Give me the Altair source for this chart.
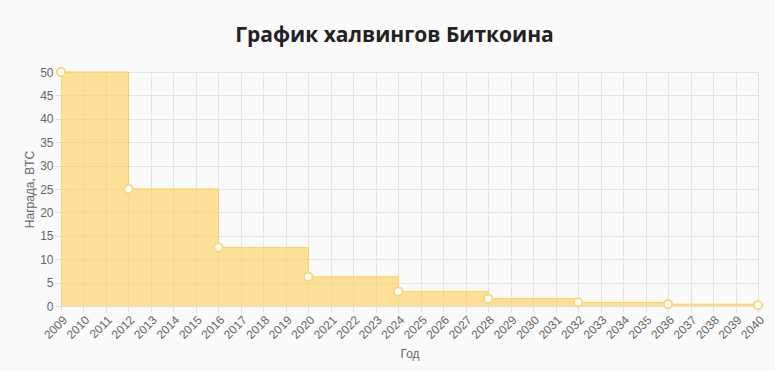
import altair as alt
import pandas as pd

years = [2009, 2012, 2016, 2020, 2024, 2028, 2032, 2036, 2040]
rewards = [50, 25, 12.5, 6.25, 3.125, 1.5625, 0.78125, 0.390625, 0.1953125]
tick_years = list(range(2009, 2041))
y_ticks = [0, 5, 10, 15, 20, 25, 30, 35, 40, 45, 50]

df = pd.DataFrame({"year": years, "reward": rewards})

label_font = "Liberation Sans"

x_enc = alt.X(
    "year:Q",
    scale=alt.Scale(domain=[2009, 2040], nice=False, zero=False),
    axis=alt.Axis(
        values=tick_years, format="d", labelAngle=-45, labelAlign="right",
        labelBaseline="top", title="Год", labelPadding=2, titlePadding=8,
        labelOverlap=False,
    ),
)
y_enc = alt.Y(
    "reward:Q",
    scale=alt.Scale(domain=[0, 50], nice=False),
    axis=alt.Axis(values=y_ticks, title="Награда, BTC", titlePadding=3),
)

base = alt.Chart(df).encode(x=x_enc, y=y_enc)

area = base.mark_area(
    interpolate="step-after", color="#ffce56", opacity=0.6
)
line = base.mark_line(
    interpolate="step-after", color="#ffce56", strokeWidth=1
)
points = base.mark_point(
    filled=True, fill="white", stroke="#f7d87c", strokeWidth=2,
    size=70, opacity=1,
)

chart = (
    alt.layer(area, line, points)
    .properties(
        width=697, height=234,
        autosize=alt.AutoSizeParams(type="none"),
        padding={"left": 61, "top": 72, "right": 17, "bottom": 65},
        background="#fafafa",
        title=alt.TitleParams(
            "График халвингов Биткоина", font="Open Sans", fontSize=21,
            fontWeight="bold", color="#222222", offset=18, anchor="middle",
            dx=-15,
        ),
    )
    .configure_view(stroke=None)
    .configure_axis(
        labelFont=label_font, titleFont=label_font, labelFontSize=12,
        titleFontSize=12, labelColor="#666666", titleColor="#666666",
        titleFontWeight="normal", gridColor="#e3e3e3", tickColor="#dddddd",
        domainColor="#dddddd", tickSize=6,
    )
)

chart.save("out.html", embed_options={"renderer": "svg", "actions": False})
